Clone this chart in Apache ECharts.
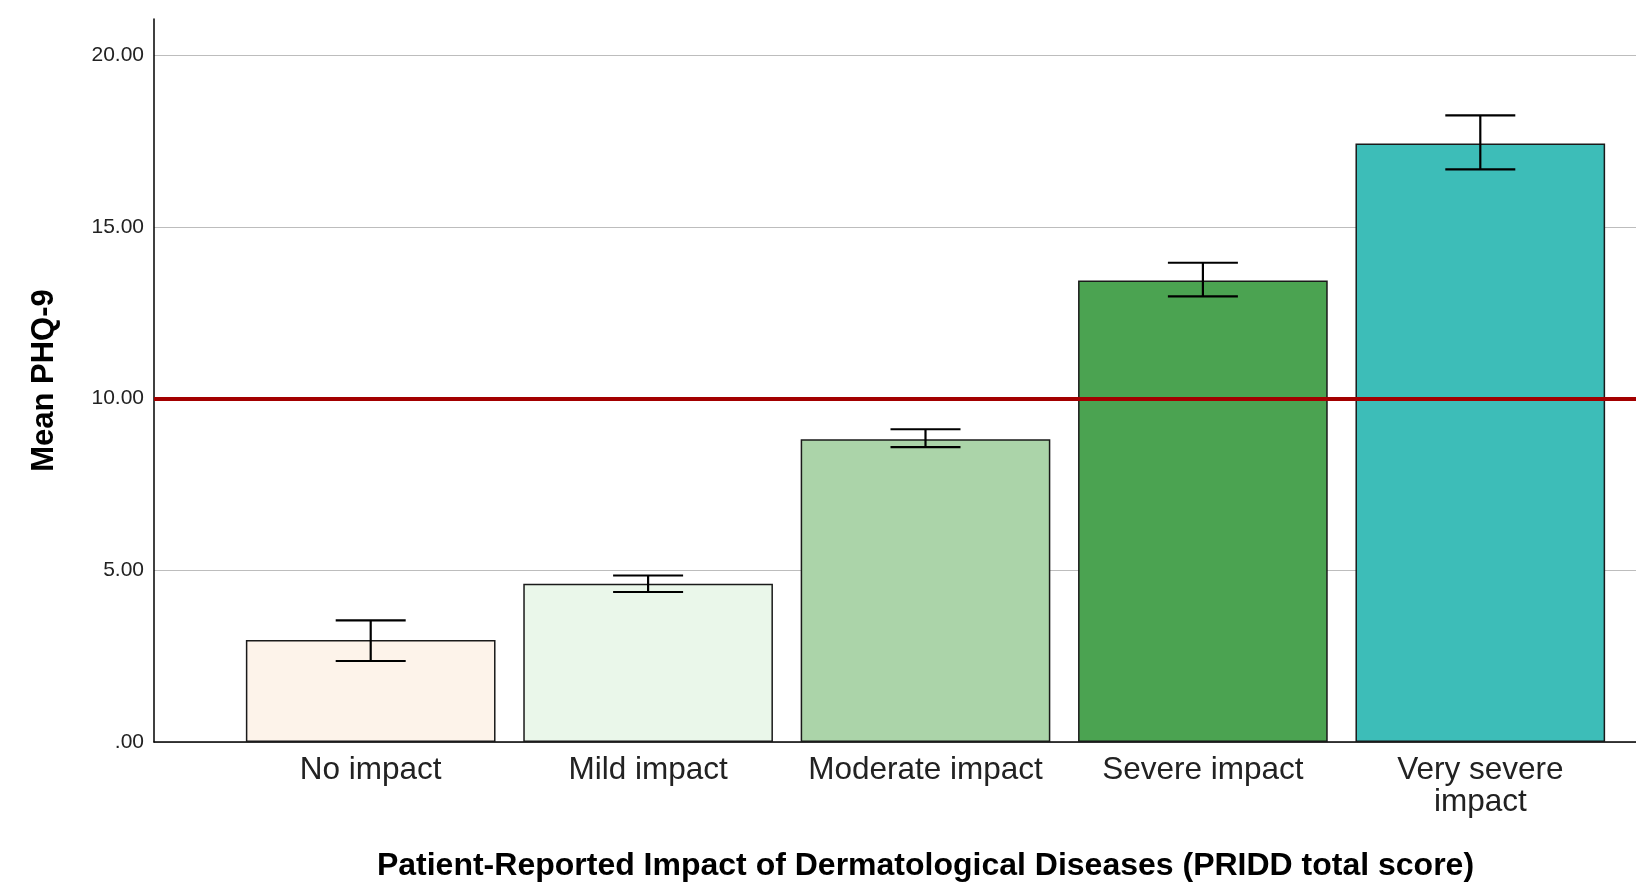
<!DOCTYPE html>
<html>
<head>
<meta charset="utf-8">
<script src="https://cdn.jsdelivr.net/npm/echarts@6/dist/echarts.min.js"></script>
<style>
  html, body { margin: 0; padding: 0; background: #fff; }
  #chart { width: 1636px; height: 882px; }
</style>
</head>
<body>
<div id="chart"></div>
<script>
// data
const categories = ['No impact', 'Mild impact', 'Moderate impact', 'Severe impact', 'Very severe\nimpact'];
const means = [2.97, 4.61, 8.82, 13.44, 17.43];
const ciLower = [2.36, 4.37, 8.59, 12.98, 16.68];
const ciUpper = [3.54, 4.85, 9.11, 13.96, 18.25];
const yTickLabels = ['.00', '5.00', '10.00', '15.00', '20.00'];
const cutoff = 10;

// colours per bar
const barColors = ['#fdf3ea', '#eaf7ea', '#abd4a9', '#4ba351', '#3dbdb8'];

const font = "'Liberation Sans', Arial, sans-serif";
const yMax = 21.06;
const gridTop = 19, gridBottom = 140;

const chart = echarts.init(document.getElementById('chart'));

const option = {
  backgroundColor: '#ffffff',
  animation: false,
  grid: [
    // bars + category labels
    { left: 232, right: 17, top: gridTop, bottom: gridBottom, outerBoundsMode: 'none', containLabel: false },
    // axis frame, gridlines, cutoff line
    { left: 154, right: 0, top: gridTop, bottom: gridBottom, outerBoundsMode: 'none', containLabel: false }
  ],
  xAxis: [
    {
      type: 'category',
      gridIndex: 0,
      data: categories,
      axisLine: { show: false },
      axisTick: { show: false },
      axisLabel: {
        fontFamily: font,
        fontSize: 31.5,
        lineHeight: 32,
        color: '#222',
        margin: 12,
        interval: 0
      },
      name: 'Patient-Reported Impact of Dermatological Diseases (PRIDD total score)',
      nameLocation: 'middle',
      nameGap: 108,
      nameTextStyle: { fontFamily: font, fontSize: 32, fontWeight: 'bold', color: '#000' }
    },
    {
      type: 'value',
      gridIndex: 1,
      min: 0,
      max: 1,
      axisLine: { show: true, onZero: false, lineStyle: { color: '#000', width: 1.5 } },
      axisTick: { show: false },
      axisLabel: { show: false },
      splitLine: { show: false }
    }
  ],
  yAxis: [
    {
      type: 'value',
      gridIndex: 0,
      min: 0,
      max: yMax,
      show: false,
      splitLine: { show: false }
    },
    {
      type: 'value',
      gridIndex: 1,
      min: 0,
      max: yMax,
      interval: 5,
      axisLine: { show: true, lineStyle: { color: '#000', width: 1.5 } },
      axisTick: { show: false },
      axisLabel: {
        fontFamily: font,
        fontSize: 21,
        color: '#222',
        margin: 10,
        showMaxLabel: false,
        formatter: function (v) {
          const i = v / 5;
          return Number.isInteger(i) && yTickLabels[i] !== undefined ? yTickLabels[i] : '';
        }
      },
      splitLine: { show: true, showMaxLine: false, lineStyle: { color: '#bdbdbd', width: 1.2 } },
      name: 'Mean PHQ-9',
      nameLocation: 'middle',
      nameGap: 94,
      nameTextStyle: { fontFamily: font, fontSize: 31, fontWeight: 'bold', color: '#000' }
    }
  ],
  series: [
    {
      type: 'bar',
      xAxisIndex: 0,
      yAxisIndex: 0,
      barCategoryGap: '10%',
      z: 2,
      data: means.map((v, i) => ({
        value: v,
        itemStyle: { color: barColors[i], borderColor: '#1a1a1a', borderWidth: 1.5 }
      }))
    },
    {
      // 95% CI whiskers
      type: 'custom',
      xAxisIndex: 0,
      yAxisIndex: 0,
      z: 5,
      data: means.map((v, i) => [i, ciLower[i], ciUpper[i]]),
      renderItem: function (params, api) {
        const lo = api.coord([api.value(0), api.value(1)]);
        const hi = api.coord([api.value(0), api.value(2)]);
        const half = 35;
        const style = { stroke: '#000', lineWidth: 2.2 };
        return {
          type: 'group',
          children: [
            { type: 'line', shape: { x1: hi[0], y1: hi[1], x2: lo[0], y2: lo[1] }, style: style },
            { type: 'line', shape: { x1: hi[0] - half, y1: hi[1], x2: hi[0] + half, y2: hi[1] }, style: style },
            { type: 'line', shape: { x1: lo[0] - half, y1: lo[1], x2: lo[0] + half, y2: lo[1] }, style: style }
          ]
        };
      }
    },
    {
      // cutoff reference line across the whole plot
      type: 'line',
      xAxisIndex: 1,
      yAxisIndex: 1,
      data: [],
      z: 10,
      markLine: {
        silent: true,
        symbol: 'none',
        label: { show: false },
        lineStyle: { color: '#a30000', width: 4, type: 'solid' },
        data: [{ yAxis: cutoff }]
      }
    }
  ]
};

chart.setOption(option);
</script>
</body>
</html>
